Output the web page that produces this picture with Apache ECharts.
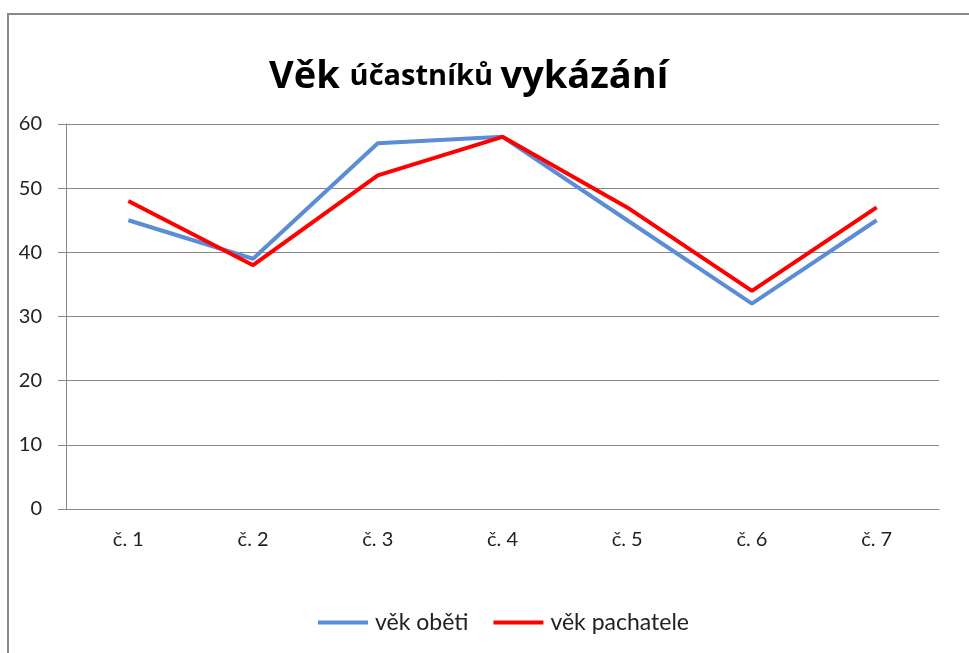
<!DOCTYPE html>
<html><head><meta charset="utf-8">
<script src="https://cdn.jsdelivr.net/npm/echarts@6/dist/echarts.min.js"></script>
<style>html,body{margin:0;padding:0;background:#fff}#c{width:969px;height:653px}</style>
</head><body><div id="c"></div>
<script>
const categories = ['č. 1','č. 2','č. 3','č. 4','č. 5','č. 6','č. 7'];
const vekObeti = [45, 39, 57, 58, 45, 32, 45];
const vekPachatele = [48, 38, 52, 58, 47, 34, 47];
const seriesNames = ['věk oběti', 'věk pachatele'];
const yTicks = {min: 0, max: 60, interval: 10};

const chart = echarts.init(document.getElementById('c'), null, {renderer: 'canvas'});
const font = 'Lato, "Open Sans", sans-serif';
const tfont = '"Open Sans", sans-serif';
chart.setOption({
  animation: false,
  backgroundColor: '#fff',
  graphic: [{
    type: 'rect', shape: {x: 8, y: 14, width: 1000, height: 700},
    style: {fill: 'none', stroke: '#8a8a8a', lineWidth: 2}, silent: true
  }],
  title: {
    text: '{a|Věk }{b|účastníků }{a|vykázání}',
    left: 264, top: 53,
    textStyle: {
      rich: {
        a: {fontFamily: tfont, fontWeight: 'bold', fontSize: 38, color: '#000'},
        b: {fontFamily: tfont, fontWeight: 'bold', fontSize: 29, color: '#000'}
      }
    }
  },
  legend: {
    bottom: 14, left: 313,
    itemWidth: 50, itemHeight: 4, itemGap: 25,
    icon: 'rect',
    textStyle: {fontFamily: font, fontSize: 23, color: '#222', padding: [0, 0, 0, 2]},
    data: seriesNames
  },
  grid: {left: 66, right: 30, top: 124, bottom: 144, containLabel: false},
  xAxis: {
    type: 'category', data: categories, boundaryGap: true,
    axisLine: {lineStyle: {color: '#888', width: 1}},
    axisTick: {length: 7, lineStyle: {color: '#888'}},
    axisLabel: {fontFamily: font, fontSize: 20, color: '#222', margin: 21},
    splitLine: {show: false}
  },
  yAxis: {
    type: 'value', min: yTicks.min, max: yTicks.max, interval: yTicks.interval,
    axisLine: {show: true, lineStyle: {color: '#888', width: 1}},
    axisTick: {show: true, length: 8, lineStyle: {color: '#888'}},
    axisLabel: {fontFamily: font, fontSize: 20, color: '#222', margin: 24},
    splitLine: {lineStyle: {color: '#888', width: 1}}
  },
  series: [
    {name: seriesNames[0], type: 'line', data: vekObeti, symbol: 'none',
     lineStyle: {color: '#5B8DD6', width: 4}, itemStyle: {color: '#5B8DD6'}},
    {name: seriesNames[1], type: 'line', data: vekPachatele, symbol: 'none',
     lineStyle: {color: '#FF0000', width: 4}, itemStyle: {color: '#FF0000'}}
  ]
});
</script></body></html>
